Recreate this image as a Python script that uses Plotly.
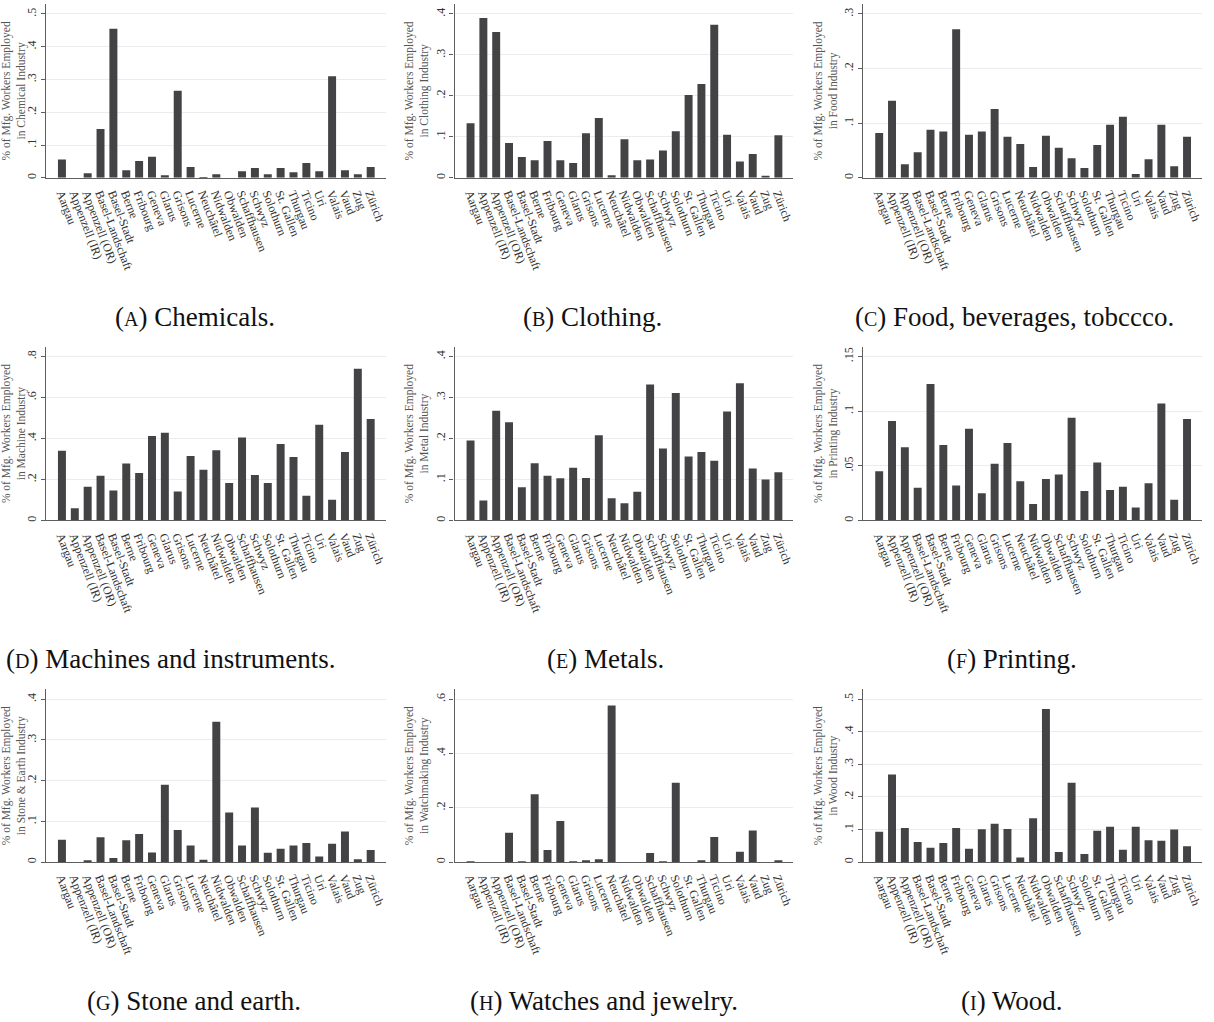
import plotly.graph_objects as go

# Cantons on the horizontal axis of every panel
cantons = ["Aargau", "Appenzell (IR)", "Appenzell (OR)", "Basel-Landschaft", "Basel-Stadt",
           "Berne", "Fribourg", "Geneva", "Glarus", "Grisons", "Lucerne", "Neuchâtel",
           "Nidwalden", "Obwalden", "Schaffhausen", "Schwyz", "Solothurn", "St. Gallen",
           "Thurgau", "Ticino", "Uri", "Valais", "Vaud", "Zug", "Zürich"]

# Share of manufacturing workers by industry (one value per canton)
chemicals = [0.056, 0.0, 0.014, 0.149, 0.455, 0.023, 0.051, 0.064, 0.008, 0.266, 0.033, 0.002,
             0.011, 0.0, 0.020, 0.030, 0.011, 0.030, 0.017, 0.045, 0.020, 0.310, 0.023, 0.011, 0.033]
clothing = [0.133, 0.390, 0.356, 0.085, 0.051, 0.043, 0.090, 0.043, 0.036, 0.109, 0.146, 0.006,
            0.094, 0.043, 0.045, 0.067, 0.114, 0.202, 0.229, 0.374, 0.105, 0.040, 0.058, 0.005, 0.104]
food = [0.082, 0.141, 0.025, 0.047, 0.088, 0.085, 0.272, 0.079, 0.085, 0.126, 0.075, 0.062,
        0.020, 0.077, 0.055, 0.036, 0.018, 0.060, 0.097, 0.112, 0.007, 0.034, 0.097, 0.021, 0.075]
machines = [0.341, 0.060, 0.165, 0.219, 0.147, 0.278, 0.232, 0.413, 0.428, 0.142, 0.315, 0.248,
            0.343, 0.183, 0.405, 0.222, 0.183, 0.374, 0.310, 0.121, 0.467, 0.101, 0.335, 0.741, 0.495]
metals = [0.195, 0.049, 0.268, 0.240, 0.081, 0.140, 0.109, 0.103, 0.129, 0.104, 0.208, 0.054,
          0.042, 0.070, 0.332, 0.176, 0.311, 0.156, 0.167, 0.146, 0.266, 0.335, 0.127, 0.100, 0.118]
printing = [0.045, 0.091, 0.067, 0.030, 0.125, 0.069, 0.032, 0.084, 0.025, 0.052, 0.071, 0.036,
            0.015, 0.038, 0.042, 0.094, 0.027, 0.053, 0.028, 0.031, 0.012, 0.034, 0.107, 0.019, 0.093]
stone = [0.055, 0.0, 0.004, 0.061, 0.010, 0.054, 0.069, 0.024, 0.190, 0.079, 0.041, 0.006,
         0.345, 0.122, 0.041, 0.134, 0.023, 0.033, 0.041, 0.047, 0.014, 0.045, 0.075, 0.007, 0.030]
watches = [0.003, 0.0, 0.0, 0.108, 0.003, 0.250, 0.045, 0.152, 0.003, 0.006, 0.011, 0.577,
           0.0, 0.0, 0.034, 0.002, 0.292, 0.0, 0.005, 0.093, 0.0, 0.038, 0.117, 0.0, 0.005]
wood = [0.093, 0.269, 0.105, 0.062, 0.044, 0.059, 0.105, 0.041, 0.101, 0.118, 0.102, 0.014,
        0.135, 0.470, 0.031, 0.244, 0.025, 0.096, 0.109, 0.038, 0.109, 0.067, 0.066, 0.100, 0.049]

industries = ["Chemical", "Clothing", "Food", "Machine", "Metal", "Printing",
              "Stone & Earth", "Watchmaking", "Wood"]
letters = ["A", "B", "C", "D", "E", "F", "G", "H", "I"]
captions = ["Chemicals.", "Clothing.", "Food, beverages, tobccco.", "Machines and instruments.",
            "Metals.", "Printing.", "Stone and earth.", "Watches and jewelry.", "Wood."]
tick_values = [[0, 0.1, 0.2, 0.3, 0.4, 0.5], [0, 0.1, 0.2, 0.3, 0.4], [0, 0.1, 0.2, 0.3],
               [0, 0.2, 0.4, 0.6, 0.8], [0, 0.1, 0.2, 0.3, 0.4], [0, 0.05, 0.1, 0.15],
               [0, 0.1, 0.2, 0.3, 0.4], [0, 0.2, 0.4, 0.6], [0, 0.1, 0.2, 0.3, 0.4, 0.5]]
series = [chemicals, clothing, food, machines, metals, printing, stone, watches, wood]

W, H = 1214, 1022
col_px = [(43, 384), (453, 793), (863, 1203)]
row_px = [(4, 178), (347, 521), (690, 863)]
caption_x = [193, 591, 1015, 168, 604, 1012, 192, 603, 1012]
caption_y = [317, 660, 1002]

BAR = "#434345"
AXIS = "#5e5e5e"
SERIF = "Liberation Serif, Times New Roman, serif"


def tick_text(v):
    if v == 0:
        return "0"
    s = "%g" % v
    return s[1:] if s.startswith("0.") else s


fig = go.Figure()
layout = dict(width=W, height=H, margin=dict(l=0, r=0, t=0, b=0),
              plot_bgcolor="white", paper_bgcolor="white", showlegend=False,
              bargap=0.38, annotations=[])

for i in range(9):
    r, c = divmod(i, 3)
    n = "" if i == 0 else str(i + 1)
    x0, x1 = col_px[c]
    y0, y1 = row_px[r]
    ticks = tick_values[i]
    # leave ~10px of headroom above the top tick
    top = ticks[-1] * (1 + 10 / 164)

    fig.add_trace(go.Bar(x=cantons, y=series[i], marker=dict(color=BAR, line=dict(width=0)),
                         xaxis="x" + n, yaxis="y" + n))

    layout["xaxis" + n] = dict(
        domain=[x0 / W, x1 / W], anchor="y" + n, type="category",
        range=[-1.25, len(cantons) - 1 + 1.17],
        tickmode="array", tickvals=cantons, ticktext=cantons,
        showline=True, linecolor=AXIS, linewidth=1.2,
        ticks="outside", ticklen=3, tickcolor="rgba(0,0,0,0)",
        tickangle=69, tickfont=dict(family=SERIF, size=12, color="#333333"),
        showgrid=False, zeroline=False, fixedrange=True)
    layout["yaxis" + n] = dict(
        domain=[1 - y1 / H, 1 - y0 / H], anchor="x" + n,
        range=[0, top], tickvals=ticks, ticktext=[tick_text(v) for v in ticks],
        tickangle=-90, ticks="outside", ticklen=4, tickcolor=AXIS,
        tickfont=dict(family=SERIF, size=12, color="#333333"),
        showline=True, linecolor=AXIS, linewidth=1.2,
        showgrid=True, gridcolor="#ececec", gridwidth=1, zeroline=False,
        title=dict(text="% of Mfg. Workers Employed<br>in " + industries[i] + " Industry",
                   font=dict(family=SERIF, size=11.5, color="#555555"), standoff=2),
        fixedrange=True)

    layout["annotations"].append(dict(
        xref="paper", yref="paper", x=caption_x[i] / W, y=1 - caption_y[r] / H,
        xanchor="center", yanchor="middle", showarrow=False,
        text="(<span style='font-size:20px'>" + letters[i] + "</span>) " + captions[i],
        font=dict(family=SERIF, size=27, color="#111111")))

fig.update_layout(**layout)
fig.write_html("out.html")
